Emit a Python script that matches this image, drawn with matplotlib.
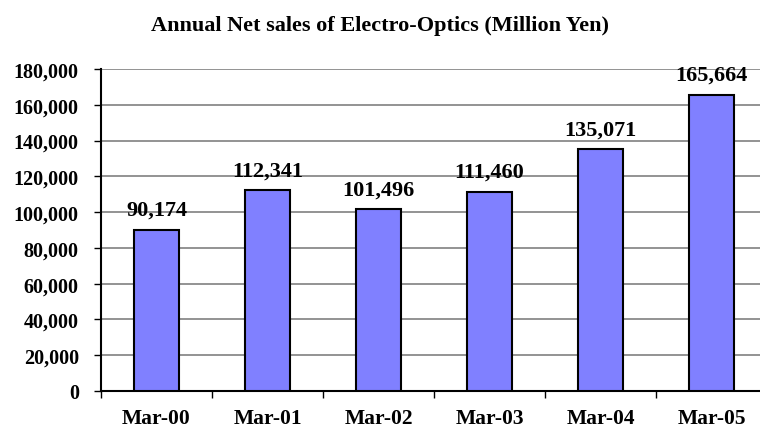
import matplotlib.pyplot as plt
from matplotlib.ticker import FuncFormatter, MultipleLocator
import numpy as np

categories = ['Mar-00', 'Mar-01', 'Mar-02', 'Mar-03', 'Mar-04', 'Mar-05']
net_sales = [90174, 112341, 101496, 111460, 135071, 165664]

plt.rcParams['font.family'] = ['Liberation Serif', 'DejaVu Serif']
plt.rcParams['font.weight'] = 'bold'

fig = plt.figure(figsize=(7.6, 4.31), dpi=100)
ax = fig.add_axes([101 / 760, 1 - 392 / 431, 666 / 760, (392 - 70) / 431])

x = np.arange(len(categories))
bars = ax.bar(x, net_sales, width=0.41, color='#8080FF', edgecolor='black',
              linewidth=1.5, zorder=3)

# data labels above bars
for xi, v in zip(x, net_sales):
    ax.annotate(f'{v:,}', (xi, v), xytext=(0, 7), textcoords='offset points',
                ha='center', va='bottom', fontsize=16, fontweight='bold', zorder=4)

ax.set_xlim(-0.5, len(categories) - 0.5)
ax.set_ylim(0, 180000)
ax.yaxis.set_major_locator(MultipleLocator(20000))
ax.yaxis.set_major_formatter(FuncFormatter(lambda v, p: f'{int(v):,}'))
ax.grid(axis='y', color='#808080', linewidth=1.2, zorder=0)

ax.set_xticks(x)
ax.set_xticklabels(categories)
ax.set_xticks(np.arange(len(categories) + 1) - 0.5, minor=True)
ax.tick_params(axis='x', which='major', length=0, pad=12, labelsize=15.5)
ax.tick_params(axis='x', which='minor', length=5, width=1, direction='out')
ax.tick_params(axis='y', length=5, width=1, labelsize=14.5, pad=11)

for s in ['top', 'right']:
    ax.spines[s].set_visible(False)
ax.spines['left'].set_linewidth(1.5)
ax.spines['bottom'].set_linewidth(1.5)

fig.text(380 / 760, 1 - 26 / 431, 'Annual Net sales of Electro-Optics (Million Yen)',
         ha='center', va='center', fontsize=16, fontweight='bold')

fig.savefig('out.png', dpi=100)
